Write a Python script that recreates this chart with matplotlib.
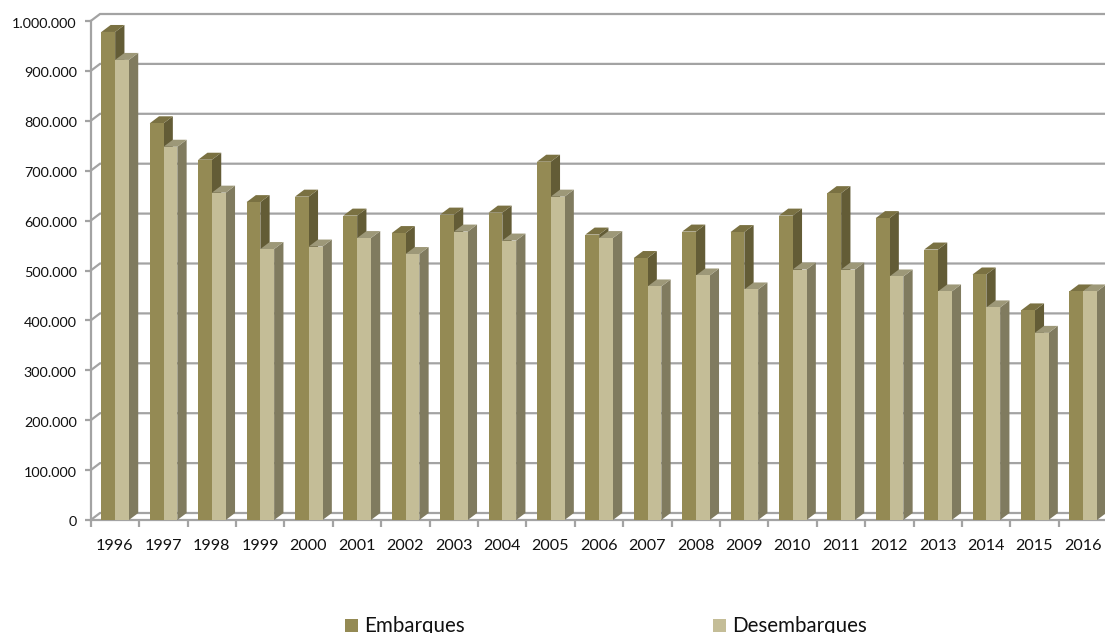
import numpy as np
from matplotlib import pyplot as plt
from matplotlib.patches import Polygon, Rectangle
from matplotlib.transforms import ScaledTranslation

plt.rcParams["font.family"] = ["Lato", "DejaVu Sans"]

years = ["1996", "1997", "1998", "1999", "2000", "2001", "2002", "2003", "2004", "2005", "2006",
         "2007", "2008", "2009", "2010", "2011", "2012", "2013", "2014", "2015", "2016"]
embarques = [978000, 795000, 722000, 637000, 648000, 610000, 575000, 612000, 616000, 718000, 572000,
             525000, 578000, 577000, 610000, 655000, 605000, 542000, 492000, 420000, 458000]
desembarques = [922000, 748000, 656000, 543000, 548000, 565000, 533000, 578000, 560000, 648000, 565000,
                468000, 490000, 462000, 502000, 502000, 488000, 458000, 426000, 375000, 458000]
y_ticks = [0, 100000, 200000, 300000, 400000, 500000, 600000, 700000, 800000, 900000, 1000000]
y_labels = ["0", "100.000", "200.000", "300.000", "400.000", "500.000", "600.000", "700.000",
            "800.000", "900.000", "1.000.000"]

W, H = 1105, 633
GRID = "#a3a3a3"
# frente, topo, lateral
colors_emb = ("#948a54", "#7a7142", "#635c36")
colors_des = ("#c4bd97", "#9d9878", "#807b5f")

fig = plt.figure(figsize=(W / 100, H / 100), dpi=100)
ax = fig.add_axes([90.7 / W, (H - 520) / H, 1016.4 / W, 499 / H])
ax.set_xlim(0, 21)
ax.set_ylim(0, 1000000)

# profundidade 3D em unidades dos dados
dx = 9.3 / 48.4
dy = 7 / 499 * 1000000
bar_w = 0.285
x0 = 0.22


def draw_bars(xs, values, colors):
    for x, v in zip(xs, values):
        # lateral
        ax.add_patch(Polygon([(x + bar_w, 0), (x + bar_w + dx, dy), (x + bar_w + dx, v + dy), (x + bar_w, v)],
                             facecolor=colors[2], edgecolor="none", clip_on=False, zorder=3))
        # topo
        ax.add_patch(Polygon([(x, v), (x + dx, v + dy), (x + bar_w + dx, v + dy), (x + bar_w, v)],
                             facecolor=colors[1], edgecolor="none", clip_on=False, zorder=3))
        ax.bar(x, v, width=bar_w, align="edge", color=colors[0], linewidth=0, zorder=3)


# grade no fundo
for t in y_ticks:
    ax.plot([0, dx, 21.2], [t, t + dy, t + dy], color=GRID, linewidth=1.6, clip_on=False, zorder=1,
            solid_joinstyle="miter")

xs = np.arange(len(years)) + x0
draw_bars(xs, embarques, colors_emb)
draw_bars(xs + bar_w, desembarques, colors_des)

for s in ["top", "right"]:
    ax.spines[s].set_visible(False)
for s in ["left", "bottom"]:
    ax.spines[s].set_color(GRID)
    ax.spines[s].set_linewidth(1.6)
    ax.spines[s].set_zorder(2)

ax.set_yticks(y_ticks)
ax.set_yticklabels(y_labels)
ax.set_xticks(range(22))
ax.set_xticklabels([])
ax.set_xticks(np.arange(len(years)) + 0.5, years, minor=True)
ax.tick_params(axis="y", length=4, width=1.6, color=GRID, pad=6, labelsize=10.4, labelcolor="#111111")
ax.tick_params(axis="x", which="major", length=5, width=1.6, color=GRID)
ax.tick_params(axis="x", which="minor", length=0, pad=14, labelsize=11.6, labelcolor="#111111")

# rotulos do eixo y um pouco mais abaixo
offset = ScaledTranslation(0, -1.5 / 100, fig.dpi_scale_trans)
for label in ax.get_yticklabels():
    label.set_transform(label.get_transform() + offset)

# legenda
for px, label, color in [(345, "Embarques", colors_emb[0]), (713, "Desembarques", colors_des[0])]:
    fig.add_artist(Rectangle((px / W, (H - 632) / H), 13 / W, 13 / H, transform=fig.transFigure,
                             facecolor=color, edgecolor="none"))
    fig.text((px + 19) / W, (H - 632) / H, label, fontsize=14.8, color="#111111", ha="left", va="baseline")

plt.savefig("out.png", dpi=100)
plt.close()
